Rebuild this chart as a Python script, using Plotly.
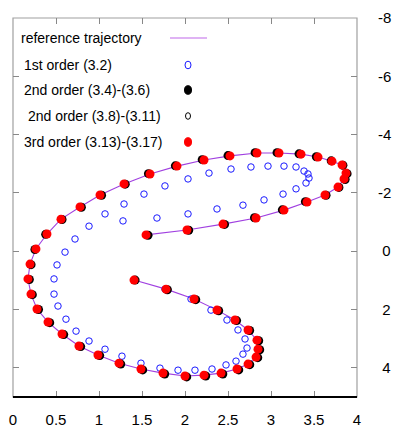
import plotly.graph_objects as go

# ---- data ----
red_x = [1.407, 1.779, 2.105, 2.372, 2.581, 2.733, 2.837, 2.849, 2.826, 2.733,
         2.605, 2.419, 2.221, 2.000, 1.744, 1.488, 1.233, 0.988, 0.767, 0.570,
         0.407, 0.279, 0.209, 0.174, 0.198, 0.267, 0.395, 0.558, 0.779, 1.012,
         1.291, 1.593, 1.907, 2.221, 2.523, 2.837, 3.093, 3.349, 3.547, 3.709,
         3.826, 3.872, 3.849, 3.779, 3.628, 3.419, 3.151, 2.826, 2.442, 2.023,
         1.547]
red_y = [0.99, 1.30, 1.64, 2.02, 2.36, 2.70, 3.05, 3.36, 3.63, 3.87,
         4.04, 4.18, 4.25, 4.28, 4.18, 4.04, 3.84, 3.56, 3.25, 2.84,
         2.43, 1.98, 1.47, 0.95, 0.44, -0.08, -0.59, -1.10, -1.52, -1.93,
         -2.31, -2.65, -2.92, -3.13, -3.27, -3.37, -3.37, -3.33, -3.23, -3.09,
         -2.96, -2.68, -2.48, -2.20, -1.93, -1.69, -1.41, -1.14, -0.93, -0.73,
         -0.56]

black_x = [1.420, 1.795, 2.125, 2.392, 2.600, 2.752, 2.857, 2.869, 2.846, 2.753,
           2.625, 2.440, 2.241, 2.020, 1.764, 1.508, 1.253, 1.008, 0.787, 0.590,
           0.427, 0.297, 0.225, 0.190, 0.210, 0.255, 0.380, 0.570, 0.795, 1.030,
           1.305, 1.575, 1.888, 2.200, 2.500, 2.815, 3.070, 3.326, 3.527, 3.700,
           3.836, 3.885, 3.862, 3.790, 3.640, 3.400, 3.132, 2.808, 2.460, 2.043,
           1.570]
black_y = [0.99, 1.32, 1.66, 2.04, 2.38, 2.72, 3.07, 3.38, 3.65, 3.89,
           4.07, 4.21, 4.28, 4.31, 4.21, 4.07, 3.87, 3.58, 3.27, 2.86,
           2.45, 2.00, 1.49, 0.97, 0.46, -0.06, -0.58, -1.09, -1.51, -1.92,
           -2.30, -2.66, -2.93, -3.14, -3.28, -3.38, -3.38, -3.34, -3.24, -3.10,
           -2.95, -2.66, -2.46, -2.19, -1.92, -1.70, -1.42, -1.15, -0.92, -0.72,
           -0.55]

blue_x = [1.407, 1.767, 2.070, 2.302, 2.488, 2.616, 2.698, 2.721, 2.674, 2.593,
          2.477, 2.314, 2.116, 1.919, 1.709, 1.488, 1.267, 1.070, 0.884, 0.733,
          0.616, 0.523, 0.477, 0.477, 0.512, 0.605, 0.721, 0.884, 1.070, 1.291,
          1.523, 1.767, 2.035, 2.279, 2.535, 2.767, 2.965, 3.151, 3.291, 3.384,
          3.430, 3.442, 3.407, 3.291, 3.140, 2.919, 2.674, 2.372, 2.035, 1.674,
          1.279]
blue_y = [0.99, 1.30, 1.64, 2.02, 2.36, 2.70, 3.01, 3.32, 3.53, 3.77,
          3.90, 4.04, 4.08, 4.08, 4.01, 3.84, 3.60, 3.36, 3.08, 2.74,
          2.33, 1.88, 1.47, 0.95, 0.47, 0.03, -0.42, -0.86, -1.28, -1.62,
          -1.96, -2.24, -2.48, -2.68, -2.82, -2.89, -2.92, -2.92, -2.89, -2.75,
          -2.65, -2.51, -2.34, -2.14, -1.96, -1.76, -1.58, -1.45, -1.28, -1.14,
          -1.04]

# reference trajectory follows the 3rd-order points
traj_x = red_x
traj_y = red_y

x_ticks = [0, 0.5, 1, 1.5, 2, 2.5, 3, 3.5, 4]
x_tick_labels = ["0", "0.5", "1", "1.5", "2", "2.5", "3", "3.5", "4"]
y_ticks = [-8, -6, -4, -2, 0, 2, 4]
y_tick_labels = ["-8", "-6", "-4", "-2", "\u00a00", "\u00a02", "\u00a04"]

legend_labels = ["reference trajectory", "1st order (3.2)", "2nd order (3.4)-(3.6)",
                 "\u00a02nd order (3.8)-(3.11)", "3rd order (3.13)-(3.17)"]

# ---- figure ----
W, H = 393, 431
L, R, T, B = 13, 36, 18, 34
pw, ph = W - L - R, H - T - B

fig = go.Figure()
fig.add_trace(go.Scatter(x=traj_x, y=traj_y, mode="lines",
                         line=dict(color="#a040e0", width=1.1), hoverinfo="skip"))
fig.add_trace(go.Scatter(x=blue_x, y=blue_y, mode="markers",
                         marker=dict(symbol="circle-open", size=6.5, color="#1a1aff",
                                     line=dict(width=1, color="#1a1aff"))))
fig.add_trace(go.Scatter(x=black_x, y=black_y, mode="markers",
                         marker=dict(symbol="circle", size=9, color="black")))
fig.add_trace(go.Scatter(x=black_x, y=black_y, mode="markers",
                         marker=dict(symbol="circle-open", size=6, color="black",
                                     line=dict(width=1, color="black"))))
fig.add_trace(go.Scatter(x=red_x, y=red_y, mode="markers",
                         marker=dict(symbol="circle", size=9, color="#ff0000")))

def px_x(p):
    return (p - L) / pw

def px_y(p):
    return (H - B - p) / ph

# legend text
leg_text_px = [(19, 38), (22, 65), (22, 90), (22, 116), (22, 142)]
annotations = []
for lab, (lx, ly) in zip(legend_labels, leg_text_px):
    annotations.append(dict(text=lab, xref="paper", yref="paper",
                            x=px_x(lx), y=px_y(ly),
                            xanchor="left", yanchor="middle", showarrow=False,
                            font=dict(size=14, color="black",
                                      family="Liberation Sans, Arial, sans-serif")))

shapes = [
    # gray frame
    dict(type="rect", xref="paper", yref="paper", x0=0, x1=1, y0=0, y1=1,
         line=dict(color="#a0a0a0", width=1.2), layer="below"),
    # black bottom axis
    dict(type="line", xref="paper", yref="paper", x0=0, x1=1, y0=0, y1=0,
         line=dict(color="black", width=2)),
    # legend line sample
    dict(type="line", xref="paper", yref="paper", x0=px_x(170), x1=px_x(207),
         y0=px_y(38), y1=px_y(38), line=dict(color="#d49af0", width=1.5)),
]
key_x = px_x(188)
keys = [(65, "open", "#1a1aff", 3), (90, "fill", "black", 3.5),
        (116, "open", "black", 2.5), (142, "fill", "#ff0000", 3.5)]
for ky, kind, col, r in keys:
    shapes.append(dict(type="circle", xref="paper", yref="paper",
                       xsizemode="pixel", ysizemode="pixel",
                       xanchor=key_x, yanchor=px_y(ky),
                       x0=-r, x1=r, y0=-r - 0.8, y1=r + 0.8,
                       line=dict(color=col, width=1),
                       fillcolor=col if kind == "fill" else "rgba(0,0,0,0)"))

fig.update_layout(
    width=W, height=H,
    margin=dict(l=L, r=R, t=T, b=B, pad=0, autoexpand=False),
    paper_bgcolor="white", plot_bgcolor="white",
    showlegend=False, hovermode=False,
    annotations=annotations, shapes=shapes,
    font=dict(family="Liberation Sans, Arial, sans-serif", size=15, color="black"),
)
fig.update_xaxes(range=[0, 4], tickvals=x_ticks, ticktext=x_tick_labels,
                 ticks="inside", ticklen=6, tickcolor="#888888", tickwidth=1,
                 mirror="ticks", showline=False, showgrid=False, zeroline=False,
                 automargin=False, ticklabelstandoff=12, tickfont=dict(size=15))
fig.update_yaxes(range=[5, -8], tickvals=y_ticks, ticktext=y_tick_labels, side="right",
                 ticks="inside", ticklen=6, tickcolor="#888888", tickwidth=1,
                 mirror="ticks", showline=False, showgrid=False, zeroline=False,
                 automargin=False, ticklabelstandoff=20, tickfont=dict(size=15))

fig.write_html("out.html", config={"displayModeBar": False, "staticPlot": True})

# remove the browser's default 8px body margin so the figure fills the window
with open("out.html", "r", encoding="utf-8") as f:
    html = f.read()
html = html.replace("<body>", '<body style="margin:0;padding:0;overflow:hidden">', 1)
with open("out.html", "w", encoding="utf-8") as f:
    f.write(html)
